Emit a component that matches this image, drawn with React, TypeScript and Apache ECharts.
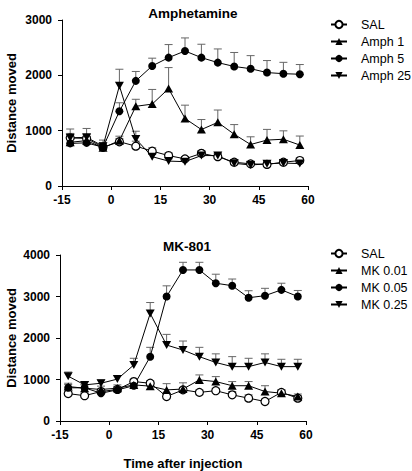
import React, { useEffect, useRef } from "react";
import * as echarts from "echarts";

const TIMES = [-12.5, -7.5, -2.5, 2.5, 7.5, 12.5, 17.5, 22.5, 27.5, 32.5, 37.5, 42.5, 47.5, 52.5, 57.5];
const X_TICKS = [-15, 0, 15, 30, 45, 60];

// Amphetamine panel
const AMPH_NAMES = ["SAL", "Amph 1", "Amph 5", "Amph 25"];
const amphSal = [870, 860, 700, 800, 720, 630, 550, 490, 590, 530, 430, 400, 390, 430, 460];
const amph1 = [790, 820, 690, 820, 1440, 1480, 1760, 1220, 1020, 1150, 935, 750, 830, 845, 740];
const amph5 = [770, 780, 700, 1350, 1900, 2170, 2320, 2440, 2320, 2230, 2160, 2120, 2050, 2030, 2020];
const amph25 = [870, 880, 720, 1810, 850, 530, 450, 440, 550, 550, 410, 380, 400, 415, 405];
const amphSalErr = [80, 70, 60, 60, 90, 60, 50, 40, 50, 60, 50, 50, 60, 50, 50];
const amph1Err = [80, 80, 60, 80, 127, 265, 380, 241, 181, 223, 175, 139, 193, 152, 163];
const amph5Err = [80, 100, 80, 154, 170, 140, 236, 236, 242, 247, 253, 236, 217, 205, 175];
const amph25Err = [160, 160, 110, 300, 140, 40, 40, 40, 40, 40, 40, 40, 40, 40, 40];

// MK-801 panel
const MK_NAMES = ["SAL", "MK 0.01", "MK 0.05", "MK 0.25"];
const mkSal = [660, 610, 710, 760, 950, 910, 590, 750, 690, 730, 630, 550, 470, 690, 550];
const mk001 = [830, 790, 760, 790, 870, 840, 750, 770, 990, 950, 850, 850, 710, 670, 590];
const mk005 = [800, 800, 670, 750, 850, 1550, 3000, 3640, 3640, 3320, 3260, 2970, 3020, 3160, 3000];
const mk025 = [1080, 870, 910, 1010, 1350, 2590, 1830, 1710, 1550, 1410, 1310, 1310, 1410, 1310, 1310];
const mkSalErr = [60, 60, 60, 60, 60, 60, 60, 60, 60, 60, 80, 80, 60, 60, 60];
const mk001Err = [80, 80, 80, 80, 80, 80, 150, 150, 120, 120, 100, 100, 140, 80, 60];
const mk005Err = [80, 80, 80, 80, 80, 225, 257, 184, 184, 217, 161, 169, 177, 160, 145];
const mk025Err = [100, 80, 80, 80, 161, 265, 257, 217, 225, 208, 241, 201, 208, 177, 177];

const FONT = "'Liberation Sans', Arial, sans-serif";
const DOWN_TRI = "path://M0,0 L10,0 L5,9 Z";
const SYMBOLS = ["circle", "triangle", "circle", DOWN_TRI];

function lineSeries(name: string, vals: number[], idx: number) {
  const open = idx === 0;
  return {
    type: "line",
    name,
    data: TIMES.map((t, i) => [t, vals[i]]),
    symbol: SYMBOLS[idx],
    symbolSize: idx === 3 ? [9, 8] : idx === 1 ? [9, 8] : 8,
    showAllSymbol: true,
    itemStyle: open
      ? { color: "#fff", borderColor: "#000", borderWidth: 1.2 }
      : { color: "#000", borderColor: "#000", borderWidth: 0 },
    lineStyle: { color: "#000", width: 1 },
    z: 3,
  };
}

function errSeries(vals: number[], errs: number[]) {
  return {
    type: "custom",
    silent: true,
    z: 2,
    encode: { x: 0, y: 1 },
    data: TIMES.map((t, i) => [t, vals[i], errs[i]]),
    renderItem: (_params: any, api: any) => {
      const x = api.value(0);
      const y = api.value(1);
      const e = api.value(2);
      const p0 = api.coord([x, y]);
      const p1 = api.coord([x, y + e]);
      return {
        type: "group",
        children: [
          { type: "line", shape: { x1: p0[0], y1: p0[1], x2: p1[0], y2: p1[1] }, style: { stroke: "#666", lineWidth: 1 } },
          { type: "line", shape: { x1: p1[0] - 4, y1: p1[1], x2: p1[0] + 4, y2: p1[1] }, style: { stroke: "#666", lineWidth: 1 } },
        ],
      };
    },
  };
}

function buildOption(cfg: {
  title: string;
  titleTop: number;
  titleLeft: number;
  gridLeft: number;
  gridTop: number;
  yMax: number;
  names: string[];
  vals: number[][];
  errs: number[][];
  legendTop: number;
  xName: string;
}) {
  const series: any[] = [];
  cfg.vals.forEach((v, i) => series.push(errSeries(v, cfg.errs[i])));
  cfg.vals.forEach((v, i) => series.push(lineSeries(cfg.names[i], v, i)));
  return {
    animation: false,
    textStyle: { fontFamily: FONT },
    title: {
      text: cfg.title,
      left: cfg.titleLeft,
      textAlign: "center",
      top: cfg.titleTop,
      textStyle: { fontFamily: FONT, fontSize: 13.5, fontWeight: "bold", color: "#000" },
    },
    legend: {
      orient: "vertical",
      left: 330,
      top: cfg.legendTop,
      padding: 0,
      itemWidth: 16,
      itemHeight: 9,
      itemGap: 4,
      data: cfg.names,
      selectedMode: false,
      textStyle: { fontFamily: FONT, fontSize: 12.5, color: "#000", padding: [0, 0, 0, 9] },
    },
    grid: {
      left: cfg.gridLeft,
      top: cfg.gridTop,
      width: 246,
      height: 166,
      containLabel: false,
      outerBoundsMode: "none",
    },
    xAxis: {
      type: "value",
      min: -15,
      max: 60,
      interval: 15,
      name: cfg.xName,
      nameLocation: "middle",
      nameGap: 36,
      nameMoveOverlap: false,
      nameTextStyle: { fontFamily: FONT, fontSize: 13, fontWeight: "bold", color: "#000" },
      axisLine: { show: true, onZero: false, lineStyle: { color: "#000", width: 1 } },
      axisTick: { show: true, length: 4, lineStyle: { color: "#000" } },
      splitLine: { show: false },
      axisLabel: {
        color: "#000",
        fontWeight: "bold",
        fontSize: 12,
        fontFamily: FONT,
        margin: 8,
        formatter: (v: number) => (X_TICKS.includes(v) ? String(v) : ""),
      },
    },
    yAxis: {
      type: "value",
      min: 0,
      max: cfg.yMax,
      interval: 1000,
      name: "Distance moved",
      nameLocation: "middle",
      nameGap: cfg.gridLeft - 18,
      nameMoveOverlap: false,
      nameTextStyle: { fontFamily: FONT, fontSize: 13, fontWeight: "bold", color: "#000" },
      axisLine: { show: true, onZero: false, lineStyle: { color: "#000", width: 1 } },
      axisTick: { show: true, length: 4, lineStyle: { color: "#000" } },
      splitLine: { show: false },
      axisLabel: {
        color: "#000",
        fontWeight: "bold",
        fontSize: 12,
        fontFamily: FONT,
        margin: 10,
        formatter: (v: number) => String(v),
      },
    },
    series,
  };
}

export default function App() {
  const topRef = useRef<HTMLDivElement>(null);
  const botRef = useRef<HTMLDivElement>(null);

  useEffect(() => {
    const c1 = echarts.init(topRef.current!, undefined, { renderer: "svg" });
    const c2 = echarts.init(botRef.current!, undefined, { renderer: "svg" });
    c1.setOption(
      buildOption({
        title: "Amphetamine",
        titleTop: 1,
        titleLeft: 188,
        gridLeft: 62,
        gridTop: 20,
        yMax: 3000,
        names: AMPH_NAMES,
        vals: [amphSal, amph1, amph5, amph25],
        errs: [amphSalErr, amph1Err, amph5Err, amph25Err],
        legendTop: 18,
        xName: "",
      }) as any
    );
    c2.setOption(
      buildOption({
        title: "MK-801",
        titleTop: 4,
        titleLeft: 182,
        gridLeft: 60,
        gridTop: 25,
        yMax: 4000,
        names: MK_NAMES,
        vals: [mkSal, mk001, mk005, mk025],
        errs: [mkSalErr, mk001Err, mk005Err, mk025Err],
        legendTop: 17,
        xName: "Time after injection",
      }) as any
    );
    return () => {
      c1.dispose();
      c2.dispose();
    };
  }, []);

  return (
    <div style={{ position: "fixed", left: 0, top: 0, width: 412, height: 471, background: "#fff" }}>
      <div ref={topRef} style={{ position: "absolute", left: 0, top: 0, width: 412, height: 230 }} />
      <div ref={botRef} style={{ position: "absolute", left: 0, top: 230, width: 412, height: 241 }} />
    </div>
  );
}
